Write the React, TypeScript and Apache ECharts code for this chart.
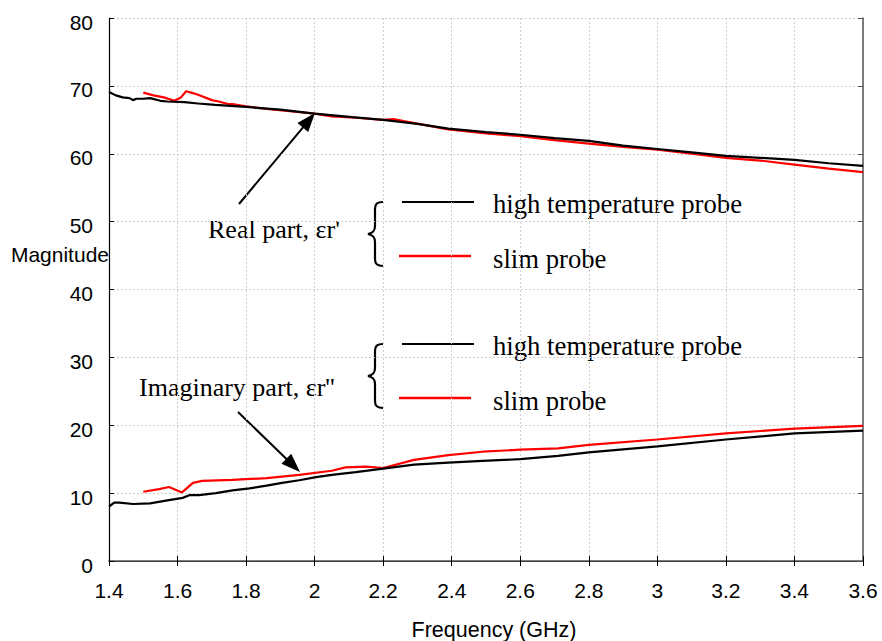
import React, { useEffect, useRef } from "react";
import * as echarts from "echarts";

// Frequency sweep (GHz) and measured permittivity, real and imaginary parts
const freqRealHT = [1.4, 1.42, 1.44, 1.46, 1.47, 1.48, 1.5, 1.52, 1.55, 1.57, 1.62, 1.66, 1.71, 1.8, 1.9, 2.0, 2.11, 2.2, 2.3, 2.39, 2.5, 2.6, 2.7, 2.8, 2.9, 3.0, 3.1, 3.2, 3.3, 3.4, 3.5, 3.6];
const realHT = [69.1, 68.6, 68.3, 68.2, 67.9, 68.1, 68.1, 68.2, 67.8, 67.7, 67.6, 67.4, 67.2, 66.9, 66.5, 65.9, 65.4, 65.0, 64.4, 63.7, 63.2, 62.8, 62.3, 61.9, 61.2, 60.7, 60.2, 59.7, 59.4, 59.1, 58.6, 58.2];

const freqRealSlim = [1.5, 1.53, 1.56, 1.59, 1.61, 1.625, 1.64, 1.66, 1.7, 1.72, 1.75, 1.76, 1.8, 1.86, 1.92, 2.0, 2.05, 2.12, 2.2, 2.23, 2.26, 2.39, 2.5, 2.6, 2.7, 2.8, 2.9, 3.0, 3.1, 3.2, 3.3, 3.4, 3.5, 3.6];
const realSlim = [69.0, 68.6, 68.3, 67.8, 68.3, 69.2, 69.0, 68.7, 67.9, 67.7, 67.3, 67.3, 67.0, 66.6, 66.3, 65.9, 65.5, 65.3, 65.0, 65.1, 64.8, 63.6, 63.0, 62.6, 62.0, 61.5, 61.0, 60.6, 60.0, 59.4, 59.0, 58.4, 57.8, 57.3];

const freqImagHT = [1.4, 1.415, 1.43, 1.47, 1.52, 1.566, 1.615, 1.634, 1.663, 1.712, 1.76, 1.81, 1.86, 1.905, 1.955, 2.004, 2.05, 2.12, 2.2, 2.29, 2.39, 2.49, 2.6, 2.71, 2.8, 3.0, 3.2, 3.4, 3.6];
const imagHT = [8.0, 8.6, 8.6, 8.4, 8.5, 8.9, 9.3, 9.7, 9.7, 10.0, 10.4, 10.7, 11.1, 11.5, 11.9, 12.35, 12.7, 13.1, 13.6, 14.2, 14.5, 14.75, 15.0, 15.5, 16.0, 16.9, 17.9, 18.8, 19.2];

const freqImagSlim = [1.5, 1.546, 1.575, 1.613, 1.645, 1.672, 1.76, 1.8, 1.86, 1.955, 2.05, 2.09, 2.15, 2.2, 2.29, 2.39, 2.49, 2.6, 2.71, 2.8, 3.0, 3.2, 3.4, 3.6];
const imagSlim = [10.2, 10.6, 10.9, 10.1, 11.5, 11.8, 11.95, 12.05, 12.2, 12.7, 13.3, 13.8, 13.9, 13.7, 14.9, 15.6, 16.1, 16.4, 16.6, 17.1, 17.9, 18.8, 19.5, 19.9];

const legendNames = ["high temperature probe", "slim probe"];
const partLabels = ["Real part, \u03b5r'", "Imaginary part, \u03b5r''"];

const pairs = (xs: number[], ys: number[]) => xs.map((x, i) => [x, ys[i]]);

// Curly brace, 15 x 64 px
const BRACE =
  "M 15 0 C 9 0 7 2 7 7 L 7 24 C 7 29 5 31 0 32 C 5 33 7 35 7 40 L 7 57 C 7 62 9 64 15 64";
echarts.graphic.registerShape("brace", echarts.graphic.extendPath(BRACE, {}));

const SERIF = "'Liberation Serif', 'Times New Roman', serif";
const SANS = "'Liberation Sans', Arial, sans-serif";

function arrow(x1: number, y1: number, x2: number, y2: number) {
  const dx = x2 - x1;
  const dy = y2 - y1;
  const len = Math.hypot(dx, dy);
  const ux = dx / len;
  const uy = dy / len;
  const headL = 19;
  const headW = 7;
  const bx = x2 - ux * headL;
  const by = y2 - uy * headL;
  return [
    {
      type: "line",
      shape: { x1, y1, x2: bx + ux * 2, y2: by + uy * 2 },
      style: { stroke: "#000", lineWidth: 2 },
    },
    {
      type: "polygon",
      shape: {
        points: [
          [x2, y2],
          [bx - uy * headW, by + ux * headW],
          [bx + uy * headW, by - ux * headW],
        ],
      },
      style: { fill: "#000" },
    },
  ];
}

function legendBlock(top: number) {
  return [
    { type: "brace", x: 368, y: top, style: { fill: null, stroke: "#000", lineWidth: 2.2 } },
    { type: "line", shape: { x1: 402, y1: top + 0, x2: 474, y2: top + 0 }, style: { stroke: "#000", lineWidth: 2 } },
    { type: "line", shape: { x1: 399, y1: top + 54, x2: 471, y2: top + 54 }, style: { stroke: "#ff0000", lineWidth: 2.5 } },
    {
      type: "text",
      x: 493,
      y: top + 2,
      style: { text: legendNames[0], font: `26.7px ${SERIF}`, fill: "#000", textVerticalAlign: "middle" },
    },
    {
      type: "text",
      x: 493,
      y: top + 57,
      style: { text: legendNames[1], font: `26.7px ${SERIF}`, fill: "#000", textVerticalAlign: "middle" },
    },
  ];
}

export default function App() {
  const ref = useRef<HTMLDivElement>(null);

  useEffect(() => {
    if (!ref.current) return;
    const chart = echarts.init(ref.current, null, { renderer: "svg" });

    const gridStyle = { show: true, lineStyle: { color: "#cfcfcf", type: [2, 2], width: 1 } };
    const frameLine = { show: true, onZero: false, lineStyle: { color: "#000", width: 1.2 } };

    chart.setOption({
      animation: false,
      backgroundColor: "#fff",
      grid: { left: 109, right: 19, top: 18, bottom: 80, containLabel: false },
      xAxis: [
        {
          type: "value",
          min: 1.4,
          max: 3.6,
          interval: 0.2,
          axisLine: frameLine,
          axisTick: { show: true, inside: true, length: 5, lineStyle: { color: "#000" } },
          axisLabel: {
            margin: 19,
            fontSize: 21,
            fontFamily: SANS,
            color: "#000",
            formatter: (v: number) => String(Math.round(v * 10) / 10),
          },
          splitLine: gridStyle,
        },
        {
          type: "value",
          position: "top",
          min: 1.4,
          max: 3.6,
          interval: 0.2,
          axisLine: { show: true, lineStyle: { color: "#555", width: 1.5 } },
          axisTick: { show: true, inside: true, length: 5, lineStyle: { color: "#000" } },
          axisLabel: { show: false },
          splitLine: { show: false },
        },
      ],
      yAxis: [
        {
          type: "value",
          min: 0,
          max: 80,
          interval: 10,
          axisLine: frameLine,
          axisTick: { show: true, inside: true, length: 5, lineStyle: { color: "#000" } },
          axisLabel: {
            margin: 16,
            fontSize: 21,
            fontFamily: SANS,
            color: "#000",
            verticalAlign: "top",
            lineHeight: 8,
          },
          splitLine: gridStyle,
        },
        {
          type: "value",
          position: "right",
          min: 0,
          max: 80,
          interval: 10,
          axisLine: { show: true, lineStyle: { color: "#555", width: 1.5 } },
          axisTick: { show: true, inside: true, length: 5, lineStyle: { color: "#555" } },
          axisLabel: { show: false },
          splitLine: { show: false },
        },
      ],
      series: [
        {
          name: `${legendNames[0]} (real)`,
          type: "line",
          data: pairs(freqRealHT, realHT),
          showSymbol: false,
          lineStyle: { color: "#000", width: 2.2 },
          z: 3,
        },
        {
          name: `${legendNames[1]} (real)`,
          type: "line",
          data: pairs(freqRealSlim, realSlim),
          showSymbol: false,
          lineStyle: { color: "#ff0000", width: 2.2 },
          z: 2,
        },
        {
          name: `${legendNames[0]} (imaginary)`,
          type: "line",
          data: pairs(freqImagHT, imagHT),
          showSymbol: false,
          lineStyle: { color: "#000", width: 2.2 },
          z: 3,
        },
        {
          name: `${legendNames[1]} (imaginary)`,
          type: "line",
          data: pairs(freqImagSlim, imagSlim),
          showSymbol: false,
          lineStyle: { color: "#ff0000", width: 2.2 },
          z: 2,
        },
      ],
      graphic: [
        {
          type: "text",
          x: 109,
          y: 254,
          style: { text: "Magnitude", font: `21px ${SANS}`, fill: "#000", textAlign: "right", textVerticalAlign: "middle" },
        },
        {
          type: "text",
          x: 494,
          y: 630,
          style: { text: "Frequency (GHz)", font: `21.5px ${SANS}`, fill: "#000", textAlign: "center", textVerticalAlign: "middle" },
        },
        {
          type: "text",
          x: 208,
          y: 229,
          style: { text: partLabels[0], font: `26px ${SERIF}`, fill: "#000", textVerticalAlign: "middle" },
        },
        {
          type: "text",
          x: 139,
          y: 387,
          style: { text: partLabels[1], font: `26px ${SERIF}`, fill: "#000", textVerticalAlign: "middle" },
        },
        ...arrow(239, 204, 315, 113),
        ...arrow(238, 412, 300, 472),
        ...legendBlock(202),
        ...legendBlock(344),
      ],
    });

    return () => chart.dispose();
  }, []);

  return (
    <div
      ref={ref}
      style={{ position: "fixed", left: 0, top: 0, width: 882, height: 641, background: "#fff" }}
    />
  );
}
